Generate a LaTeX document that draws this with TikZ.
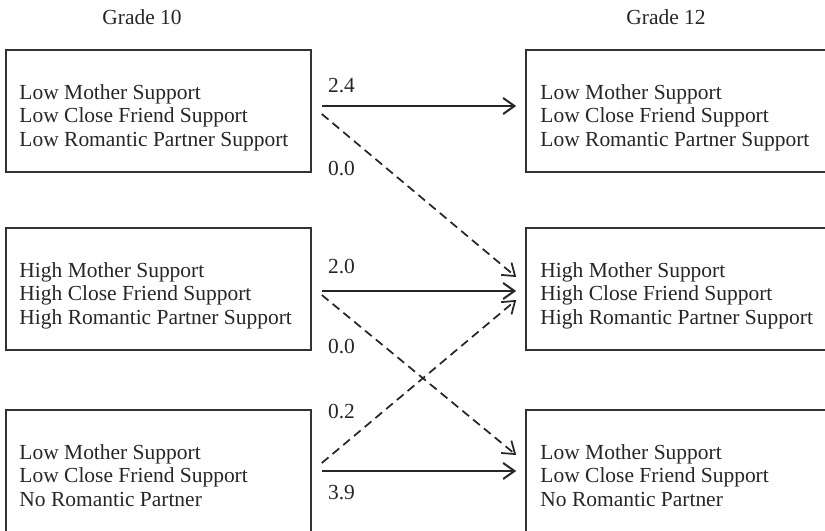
\documentclass[tikz,border=0pt]{standalone}
\usepackage{fontspec}
\setmainfont{Liberation Serif}
\usetikzlibrary{arrows.meta,positioning,calc}

\begin{document}
\begin{tikzpicture}[x=0.75pt, y=-0.75pt,
  box/.style={draw=black!80, line width=1.2pt, minimum width=228.75pt, minimum height=91.5pt, inner sep=0pt},
  boxtext/.style={align=left, anchor=north west, inner sep=0pt, text=black!85, font=\fontsize{16.1}{17.5}\selectfont},
  num/.style={anchor=base west, inner sep=0pt, text=black!85, font=\fontsize{16.1}{17.5}\selectfont},
  grade/.style={anchor=base, inner sep=0pt, text=black!85, font=\fontsize{16.1}{17.5}\selectfont},
  solidarrow/.style={-{Straight Barb[length=8.5pt,width=12pt]}, line width=1.5pt, black!85},
  dasharrow/.style={solidarrow, line width=1.3pt, dash pattern=on 6.5pt off 4pt}]

\useasboundingbox (0,0) rectangle (825,531);
\clip (0,0) rectangle (825,531);

% Column headings
\node[grade] (g10) at (142,25) {Grade 10};
\node[grade] (g12) at (666,25) {Grade 12};

% Grade 10 profiles
\node[box] (lo10) at (158.5,111) {};
\node[box] (hi10) at (158.5,289) {};
\node[box] (nr10) at (158.5,471) {};
\node[boxtext] (lo10txt) at ($(lo10.north west)+(14,35)$) {Low Mother Support\\Low Close Friend Support\\Low Romantic Partner Support};
\node[boxtext] (hi10txt) at ($(hi10.north west)+(14,35)$) {High Mother Support\\High Close Friend Support\\High Romantic Partner Support};
\node[boxtext] (nr10txt) at ($(nr10.north west)+(14,35)$) {Low Mother Support\\Low Close Friend Support\\No Romantic Partner};

% Grade 12 profiles (cut off at the right edge)
\node[box] (lo12) at (678.5,111) {};
\node[box] (hi12) at (678.5,289) {};
\node[box] (nr12) at (678.5,471) {};
\node[boxtext] (lo12txt) at ($(lo12.north west)+(15,35)$) {Low Mother Support\\Low Close Friend Support\\Low Romantic Partner Support};
\node[boxtext] (hi12txt) at ($(hi12.north west)+(15,35)$) {High Mother Support\\High Close Friend Support\\High Romantic Partner Support};
\node[boxtext] (nr12txt) at ($(nr12.north west)+(15,35)$) {Low Mother Support\\Low Close Friend Support\\No Romantic Partner};

% Transitions
\draw[solidarrow] ($(lo10.east)+(10,-5)$) -- ($(lo12.west)+(-9,-5)$);
\draw[dasharrow] ($(lo10.east)+(10,3)$) -- ($(hi12.west)+(-9,-12)$);
\draw[solidarrow] ($(hi10.east)+(10,2)$) -- ($(hi12.west)+(-9,2)$);
\draw[dasharrow] ($(hi10.east)+(10,6)$) -- ($(nr12.west)+(-9,-16)$);
\draw[dasharrow] ($(nr10.east)+(10,-8)$) -- ($(hi12.west)+(-9,11)$);
\draw[solidarrow] ($(nr10.east)+(10,0)$) -- ($(nr12.west)+(-9,0)$);

% Transition probabilities
\node[num] (p24) at ($(lo10.east)+(16,-18)$) {2.4};
\node[num] (p00a) at ($(lo10.east)+(16,65)$) {0.0};
\node[num] (p20) at ($(hi10.east)+(16,-16)$) {2.0};
\node[num] (p00b) at ($(hi10.east)+(16,64)$) {0.0};
\node[num] (p02) at ($(nr10.east)+(16,-53)$) {0.2};
\node[num] (p39) at ($(nr10.east)+(16,28)$) {3.9};

\end{tikzpicture}
\end{document}
